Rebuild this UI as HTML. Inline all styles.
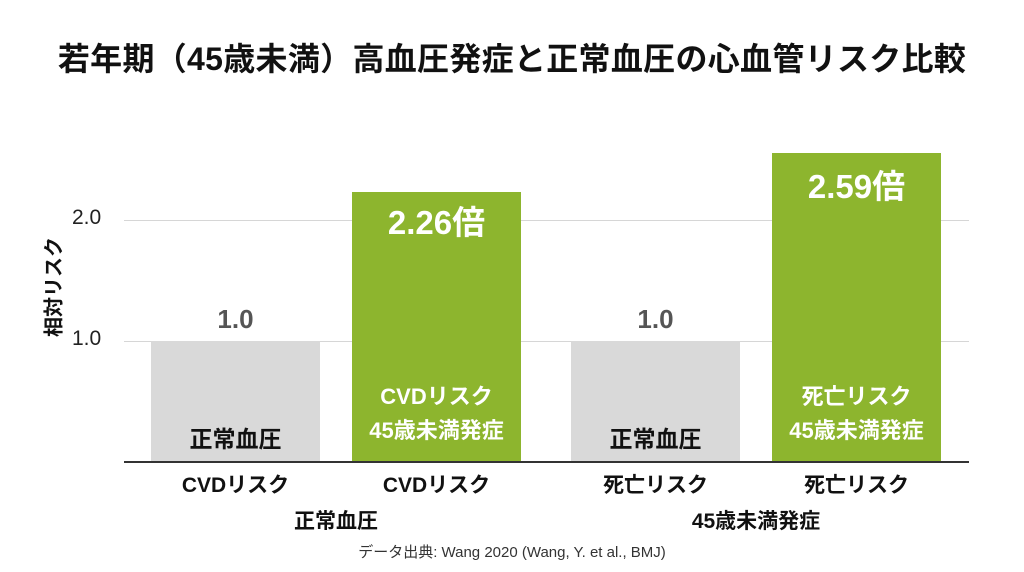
<!DOCTYPE html>
<html><head><meta charset="utf-8"><style>
body{margin:0;width:1024px;height:572px;background:#fff;position:relative;overflow:hidden;font-family:"Liberation Sans","Noto Sans CJK JP",sans-serif;}
.a{position:absolute;white-space:nowrap;}
.c{text-align:center;}
</style></head><body>
<div class="a c" style="left:0;width:1024px;top:34px;font-size:32px;font-weight:bold;color:#111;letter-spacing:0.3px">若年期（45歳未満）高血圧発症と正常血圧の心血管リスク比較</div>
<div class="a" style="left:124px;width:845px;top:220px;height:1px;background:#d6d6d6"></div>
<div class="a" style="left:124px;width:845px;top:341px;height:1px;background:#d6d6d6"></div>
<div class="a" style="left:72px;top:206px;font-size:21px;color:#222">2.0</div>
<div class="a" style="left:72px;top:327px;font-size:21px;color:#222">1.0</div>
<div class="a" style="left:52px;top:287px;font-size:20px;font-weight:bold;color:#111;transform:translate(-50%,-50%) rotate(-90deg)">相対リスク</div>
<div class="a" style="left:151px;width:169px;top:341px;height:121px;background:#d9d9d9"></div>
<div class="a" style="left:352px;width:169px;top:192px;height:270px;background:#8db52e"></div>
<div class="a" style="left:571px;width:169px;top:341px;height:121px;background:#d9d9d9"></div>
<div class="a" style="left:772px;width:169px;top:153px;height:309px;background:#8db52e"></div>
<div class="a" style="left:124px;width:845px;top:461px;height:2px;background:#333"></div>
<div class="a c" style="left:151px;width:169px;top:304px;font-size:26px;font-weight:bold;color:#555">1.0</div>
<div class="a c" style="left:571px;width:169px;top:304px;font-size:26px;font-weight:bold;color:#555">1.0</div>
<div class="a c" style="left:352px;width:169px;top:196px;font-size:33px;font-weight:bold;color:#fff">2.26倍</div>
<div class="a c" style="left:772px;width:169px;top:160px;font-size:33px;font-weight:bold;color:#fff">2.59倍</div>
<div class="a c" style="left:151px;width:169px;top:420px;font-size:23px;font-weight:bold;color:#111">正常血圧</div>
<div class="a c" style="left:571px;width:169px;top:420px;font-size:23px;font-weight:bold;color:#111">正常血圧</div>
<div class="a c" style="left:352px;width:169px;top:380px;font-size:22px;font-weight:bold;color:#fff;line-height:34px">CVDリスク<br>45歳未満発症</div>
<div class="a c" style="left:772px;width:169px;top:380px;font-size:22px;font-weight:bold;color:#fff;line-height:34px">死亡リスク<br>45歳未満発症</div>
<div class="a c" style="left:151px;width:169px;top:469px;font-size:21px;font-weight:bold;color:#111">CVDリスク</div>
<div class="a c" style="left:352px;width:169px;top:469px;font-size:21px;font-weight:bold;color:#111">CVDリスク</div>
<div class="a c" style="left:571px;width:169px;top:469px;font-size:21px;font-weight:bold;color:#111">死亡リスク</div>
<div class="a c" style="left:772px;width:169px;top:469px;font-size:21px;font-weight:bold;color:#111">死亡リスク</div>
<div class="a c" style="left:236px;width:200px;top:505px;font-size:21px;font-weight:bold;color:#111">正常血圧</div>
<div class="a c" style="left:656px;width:200px;top:505px;font-size:21px;font-weight:bold;color:#111">45歳未満発症</div>
<div class="a c" style="left:0;width:1024px;top:541px;font-size:15px;color:#333">データ出典: Wang 2020 (Wang, Y. et al., BMJ)</div>
</body></html>
